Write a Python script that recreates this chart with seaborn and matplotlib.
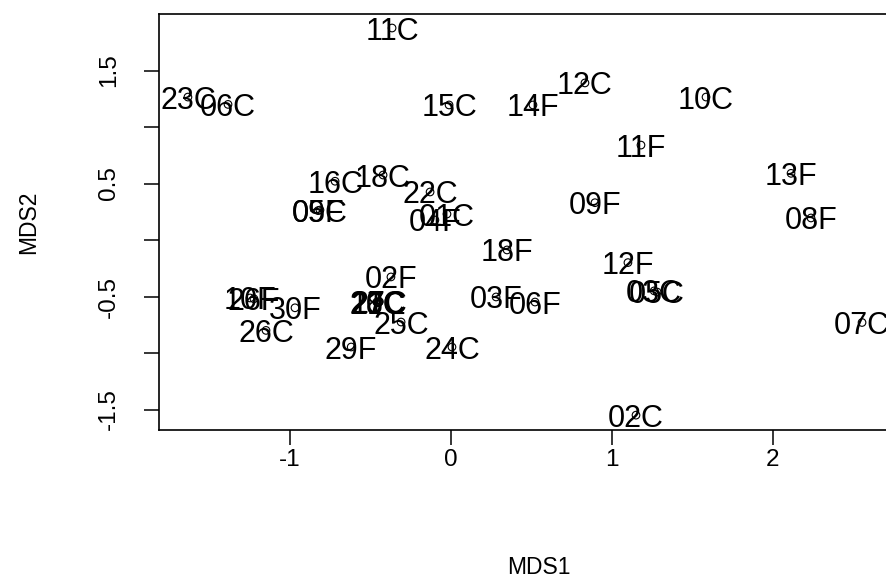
import matplotlib
matplotlib.use("Agg")
import matplotlib.pyplot as plt
import seaborn as sns
import pandas as pd

sns.set_style("white")
plt.rcParams['font.family'] = ['Liberation Sans', 'DejaVu Sans']

labels = ["11C", "23C", "06C", "15C", "14F", "12C", "10C", "11F", "13F", "09F",
          "08F", "12F", "05C", "03C", "07C", "02C", "16C", "18C", "22C", "09C",
          "05F", "04F", "01C", "02F", "10F", "26F", "30F", "26C", "20C", "21C",
          "27C", "28C", "17C", "25C", "29F", "24C", "18F", "03F", "06F"]
mds1 = [-0.366, -1.634, -1.385, -0.012, 0.509, 0.832, 1.584, 1.180, 2.112, 0.894,
        2.236, 1.099, 1.280, 1.262, 2.553, 1.149, -0.720, -0.422, -0.130, -0.814,
        -0.826, -0.100, -0.025, -0.373, -1.248, -1.224, -0.969, -1.149, -0.460, -0.452,
        -0.445, -0.458, -0.448, -0.310, -0.620, 0.006, 0.348, 0.280, 0.522]
mds2 = [1.876, 1.265, 1.200, 1.195, 1.195, 1.390, 1.265, 0.840, 0.590, 0.330,
        0.195, -0.200, -0.460, -0.450, -0.730, -1.550, 0.520, 0.575, 0.425, 0.265,
        0.260, 0.177, 0.230, -0.327, -0.513, -0.520, -0.600, -0.800, -0.548, -0.552,
        -0.545, -0.555, -0.550, -0.726, -0.947, -0.947, -0.088, -0.504, -0.549]

xticks = [-1, 0, 1, 2]
yticks = [-1.5, -1.0, -0.5, 0.0, 0.5, 1.0, 1.5]
ytick_labels = ["-1.5", "", "-0.5", "", "0.5", "", "1.5"]

df = pd.DataFrame({"MDS1": mds1, "MDS2": mds2, "label": labels})

W, H = 887, 583
L, R, T, B = 159, 919, 14, 430
fig = plt.figure(figsize=(W / 100, H / 100), dpi=100)
ax = fig.add_axes([L / W, 1 - B / H, (R - L) / W, (B - T) / H])

sns.scatterplot(data=df, x="MDS1", y="MDS2", ax=ax, marker="o",
                facecolors="none", edgecolor="black", linewidth=0.8, s=30)

for _, r in df.iterrows():
    ax.text(r["MDS1"], r["MDS2"], r["label"], ha="center", va="center_baseline",
            fontsize=22, color="black", clip_on=False)

ax.set_xlim((L - 451) / 161, (R - 451) / 161)
ax.set_ylim((240 - B) / 113, (240 - T) / 113)
ax.set_xticks(xticks)
ax.set_xticklabels([str(t) for t in xticks])
ax.set_yticks(yticks)
ax.set_yticklabels(ytick_labels, rotation=90, va="center")
ax.tick_params(axis="both", direction="out", length=11, width=1.1, color="black",
               labelsize=17.5, bottom=True, left=True, labelcolor="black")
ax.tick_params(axis="x", pad=3)
ax.tick_params(axis="y", pad=17)
ax.set_xlabel("MDS1", fontsize=16.5, color="black")
ax.set_ylabel("MDS2", fontsize=16.5, color="black")
ax.xaxis.set_label_coords(0.5, (B - 567) / (B - T))
ax.xaxis.label.set_va("center")
ax.yaxis.set_label_coords((29 - L) / (R - L), 0.5)
ax.yaxis.label.set_va("center")
for s in ax.spines.values():
    s.set_color("black")
    s.set_linewidth(1.2)
ax.grid(False)

fig.savefig("out.png", dpi=100)
